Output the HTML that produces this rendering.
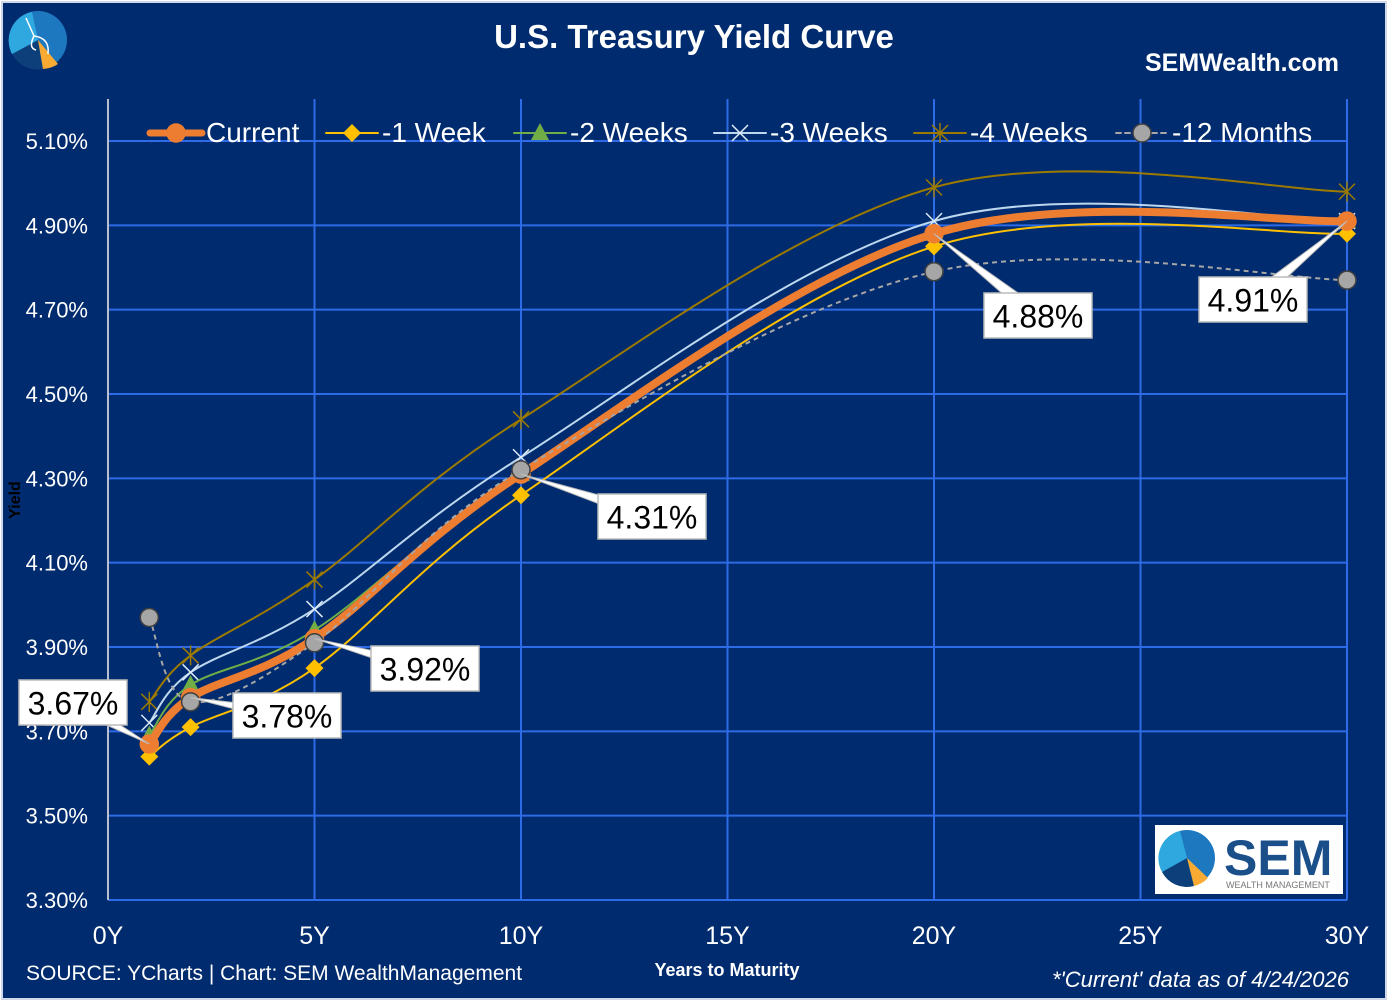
<!DOCTYPE html>
<html><head><meta charset="utf-8"><style>
html,body{margin:0;padding:0;background:#fff}
svg{display:block;font-family:"Liberation Sans",sans-serif}
</style></head><body>
<svg id="chart" width="1388" height="1001" viewBox="0 0 1388 1001" xmlns="http://www.w3.org/2000/svg">
<rect x="2" y="2" width="1384" height="997" fill="#002B6E" stroke="#d0d8e8" stroke-width="2"/>
<g id="logo">
<circle cx="38" cy="40" r="29" fill="#1E78C0"/>
<path d="M38 40 L12 54 A29 29 0 0 0 43 69 Z" fill="#0D3F7A"/>
<path d="M38 40 L43 69 A29 29 0 0 0 58 64 Z" fill="#F9AA33"/>
<path d="M38 40 L12 54 A29 29 0 0 1 32 12 Z" fill="#2FA8E0"/>
<path d="M26 18 L34 36 Q28 48 36 50 M34 36 Q50 38 48 54" stroke="#fff" stroke-width="1.5" fill="none"/>
</g>
<text x="694" y="48" text-anchor="middle" font-size="33" font-weight="bold" fill="#fff">U.S. Treasury Yield Curve</text>
<text x="1339" y="71" text-anchor="end" font-size="25" font-weight="bold" fill="#fff">SEMWealth.com</text>
<g id="grid"></g>
<g id="series"></g>
<g id="callouts"></g>
<g id="legend"></g>
<text transform="translate(20,500) rotate(-90)" text-anchor="middle" font-size="16" font-weight="bold" fill="#000">Yield</text>
<text x="727" y="976" text-anchor="middle" font-size="18" font-weight="bold" fill="#fff">Years to Maturity</text>
<text x="26" y="980" font-size="21" fill="#fff">SOURCE: YCharts | Chart: SEM WealthManagement</text>
<text x="1349" y="987" text-anchor="end" font-size="22" font-style="italic" fill="#fff">*'Current' data as of 4/24/2026</text>
<g>
<rect x="1155" y="825" width="188" height="69" fill="#fff"/>
<circle cx="1187" cy="858" r="28" fill="#1E78C0"/>
<path d="M1187 858 L1162 872 A28 28 0 0 0 1194 886 Z" fill="#0D3F7A"/>
<path d="M1187 858 L1194 886 A28 28 0 0 0 1208 878 Z" fill="#F9AA33"/>
<path d="M1187 858 L1162 872 A28 28 0 0 1 1180 831 Z" fill="#2FA8E0"/>
<text x="1224" y="875" font-size="50" font-weight="bold" fill="#1A4F8A">SEM</text>
<text x="1226" y="888" font-size="9" fill="#777">WEALTH MANAGEMENT</text>
</g>
</svg>
<script>
const xTicks=[0,5,10,15,20,25,30];
const xTickLabels=["0Y","5Y","10Y","15Y","20Y","25Y","30Y"];
const yTicks=[3.30,3.50,3.70,3.90,4.10,4.30,4.50,4.70,4.90,5.10];
const maturities=[1,2,5,10,20,30];
const current=[3.67,3.78,3.92,4.31,4.88,4.91];
const week1=[3.64,3.71,3.85,4.26,4.85,4.88];
const week2=[3.69,3.81,3.94,4.31,4.88,4.91];
const week3=[3.72,3.84,3.99,4.35,4.91,4.91];
const week4=[3.77,3.88,4.06,4.44,4.99,4.98];
const month12=[3.97,3.77,3.91,4.32,4.79,4.77];
const calloutLabels=["3.67%","3.78%","3.92%","4.31%","4.88%","4.91%"];

const NS="http://www.w3.org/2000/svg";
const X=v=>108+v*(1347-108)/30;
const Y=v=>900-(v-3.30)*(900-141)/1.8;
function mk(tag,attrs,parent){const e=document.createElementNS(NS,tag);for(const k in attrs)e.setAttribute(k,attrs[k]);parent.appendChild(e);return e;}
const grid=document.getElementById('grid');
yTicks.forEach((t,i)=>{
  const l=mk('line',{x1:108,x2:1347,y1:Y(t),y2:Y(t),stroke:'#2E6BE6','stroke-width':2},grid);
  
  
  const tx=mk('text',{x:88,y:Y(t)+8,'text-anchor':'end','font-size':22,fill:'#fff'},grid);
  tx.textContent=t.toFixed(2)+'%';
  
  
});
xTicks.forEach((t,i)=>{
  const l=mk('line',{x1:X(t),x2:X(t),y1:99,y2:900,stroke:i==0?'#b8c0d0':'#2E6BE6','stroke-width':2},grid);
  
  
  const tx=mk('text',{x:X(t),y:944,'text-anchor':'middle','font-size':25,fill:'#fff'},grid);
  tx.textContent=xTickLabels[i];
  
  
});
function smooth(vals){
  const p=maturities.map((m,i)=>[X(m),Y(vals[i])]);
  let d='M'+p[0][0]+' '+p[0][1];
  for(let i=0;i<p.length-1;i++){
    const p0=p[i-1]||p[i],p1=p[i],p2=p[i+1],p3=p[i+2]||p2;
    const c1=[p1[0]+(p2[0]-p0[0])/6,p1[1]+(p2[1]-p0[1])/6];
    const c2=[p2[0]-(p3[0]-p1[0])/6,p2[1]-(p3[1]-p1[1])/6];
    d+=` C${c1[0]} ${c1[1]} ${c2[0]} ${c2[1]} ${p2[0]} ${p2[1]}`;
  }
  return d;
}
function marker(type,x,y,color,g){
  let e;
  if(type=='circle')e=mk('circle',{cx:x,cy:y,r:9,fill:color,stroke:color==='#A6A6A6'?'#404040':color,'stroke-width':1.5},g);
  else if(type=='diamond')e=mk('path',{d:`M${x} ${y-9}L${x+9} ${y}L${x} ${y+9}L${x-9} ${y}Z`,fill:'#FFC000'},g);
  else if(type=='tri')e=mk('path',{d:`M${x} ${y-10}L${x+9} ${y+7}L${x-9} ${y+7}Z`,fill:'#70AD47'},g);
  else if(type=='x')e=mk('path',{d:`M${x-8} ${y-8}L${x+8} ${y+8}M${x+8} ${y-8}L${x-8} ${y+8}`,stroke:'#DDEBF7','stroke-width':1.5},g);
  else if(type=='star')e=mk('path',{d:`M${x-8} ${y-8}L${x+8} ${y+8}M${x+8} ${y-8}L${x-8} ${y+8}M${x} ${y-10}L${x} ${y+10}`,stroke:'#9C7A00','stroke-width':1.5},g);
  return e;
}
const seriesG=document.getElementById('series');
const defs=[
 {name:'-4 Weeks',vals:week4,color:'#9C7A00',w:2,m:'star',key:'series-4-weeks'},
 {name:'-3 Weeks',vals:week3,color:'#BDD7EE',w:2,m:'x',key:'series-3-weeks'},
 {name:'-2 Weeks',vals:week2,color:'#70AD47',w:2,m:'tri',key:'series-2-weeks'},
 {name:'-1 Week',vals:week1,color:'#FFC000',w:2,m:'diamond',key:'series-1-week'},
 {name:'Current',vals:current,color:'#ED7D31',w:8,m:'circle',key:'series-current'},
 {name:'-12 Months',vals:month12,color:'#A6A6A6',w:2,m:'circle',dash:'5 4',key:'series-12-months'}
];
defs.forEach(s=>{
  const g=mk('g',{},seriesG);
  
  
  const attrs={d:smooth(s.vals),fill:'none',stroke:s.color,'stroke-width':s.w};
  if(s.dash)attrs['stroke-dasharray']=s.dash;
  const path=mk('path',attrs,g);
  
  
  maturities.forEach((m,i)=>{
    const e=marker(s.m,X(m),Y(s.vals[i]),s.color,g);
    
    
  });
});
const cg=document.getElementById('callouts');
const boxes=[[19,680],[233,693],[371,646],[598,494],[984,293],[1199,277]];
current.forEach((v,i)=>{
  const g=mk('g',{},cg);
  
  
  const [bx,by]=boxes[i],bw=108,bh=45;
  const px=X(maturities[i]),py=Y(v);
  const cx=bx+bw/2,cy=by+bh/2;
  const ang=Math.atan2(py-cy,px-cx)+Math.PI/2;
  const dx=Math.cos(ang)*7,dy=Math.sin(ang)*7;
  mk('path',{d:`M${cx+dx} ${cy+dy}L${px} ${py}L${cx-dx} ${cy-dy}Z`,fill:'#fff',stroke:'#bbb'},g);
  mk('rect',{x:bx,y:by,width:bw,height:bh,fill:'#fff',stroke:'#bbb','stroke-width':1.5},g);
  const t=mk('text',{x:cx,y:cy+12,'text-anchor':'middle','font-size':32,fill:'#000'},g);
  t.textContent=calloutLabels[i];
});
const lg=document.getElementById('legend');
const leg=[['Current',146,'circle','#ED7D31',7,null],['-1 Week',322,'diamond','#FFC000',2,null],['-2 Weeks',510,'tri','#70AD47',2,null],['-3 Weeks',710,'x','#BDD7EE',2,null],['-4 Weeks',910,'star','#9C7A00',2,null],['-12 Months',1112,'circle','#A6A6A6',2,'5 4']];
leg.forEach(([n,x,m,c,w,dash])=>{
  const g=mk('g',{},lg);
  
  
  const a={x1:x+4,x2:x+56,y1:133,y2:133,stroke:c,'stroke-width':w,'stroke-linecap':'round'};
  if(dash)a['stroke-dasharray']=dash;
  mk('line',a,g);
  marker(m,x+30,133,c,g);
  const t=mk('text',{x:x+60,y:142,'font-size':28,fill:'#fff'},g);
  t.textContent=n;
});
</script>
</body></html>
